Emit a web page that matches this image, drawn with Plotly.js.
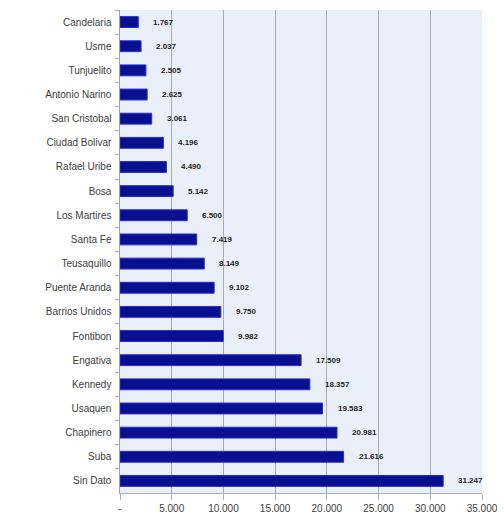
<!DOCTYPE html>
<html>
<head>
<meta charset="utf-8">
<script src="https://cdn.plot.ly/plotly-3.0.1.min.js"></script>
<style>html,body{margin:0;padding:0;background:#fff;}#chart{width:504px;height:515px;}</style>
</head>
<body>
<div id="chart"></div>
<script>
const localidades = ["Candelaria","Usme","Tunjuelito","Antonio Narino","San Cristobal","Ciudad Bolivar","Rafael Uribe","Bosa","Los Martires","Santa Fe","Teusaquillo","Puente Aranda","Barrios Unidos","Fontibon","Engativa","Kennedy","Usaquen","Chapinero","Suba","Sin Dato"];
const valores = [1767,2037,2505,2625,3061,4196,4490,5142,6500,7419,8149,9102,9750,9982,17509,18357,19583,20981,21616,31247];
const tickValores = [0,5000,10000,15000,20000,25000,30000,35000];
const tickTextos = ["-","5.000","10.000","15.000","20.000","25.000","30.000","35.000"];

function fmt(v){ return v.toString().replace(/\B(?=(\d{3})+(?!\d))/g, "."); }

const trace = {
  type: "bar",
  orientation: "h",
  x: valores,
  y: localidades,
  marker: {color: "#0a0f8f", line: {color: "#1f2fd6", width: 1}},
  hoverinfo: "none"
};

const annotations = valores.map((v, i) => ({
  x: v, y: localidades[i], xref: "x", yref: "y",
  text: "<b>" + fmt(v) + "</b>", showarrow: false, xanchor: "left", xshift: 13,
  font: {family: "Liberation Sans, Arial, sans-serif", size: 8, color: "#262626"}
}));

const layout = {
  width: 504, height: 515,
  margin: {l: 120, r: 22, t: 10, b: 22},
  paper_bgcolor: "#ffffff",
  plot_bgcolor: "#eaf0f9",
  separators: ",.",
  showlegend: false,
  bargap: 0.55,
  font: {family: "Liberation Sans, Arial, sans-serif", size: 10, color: "#404040"},
  xaxis: {
    range: [0, 35000],
    tickvals: tickValores, ticktext: tickTextos,
    showgrid: true, gridcolor: "#a9acb3", gridwidth: 1,
    zeroline: false,
    showline: true, linecolor: "#b0b0b0", linewidth: 1,
    ticks: "outside", ticklen: 6, tickcolor: "#b0b0b0",
    tickfont: {size: 10, color: "#404040"},
    fixedrange: true
  },
  yaxis: {
    autorange: "reversed",
    type: "category",
    showgrid: false,
    showline: true, linecolor: "#a0a0a0", linewidth: 1,
    ticks: "outside", tickson: "boundaries", ticklen: 4, tickcolor: "#b8a8b8",
    tickfont: {size: 10, color: "#404040"},
    ticksuffix: "  ",
    fixedrange: true
  },
  annotations: annotations
};

Plotly.newPlot("chart", [trace], layout, {displayModeBar: false, staticPlot: true});
</script>
</body>
</html>
